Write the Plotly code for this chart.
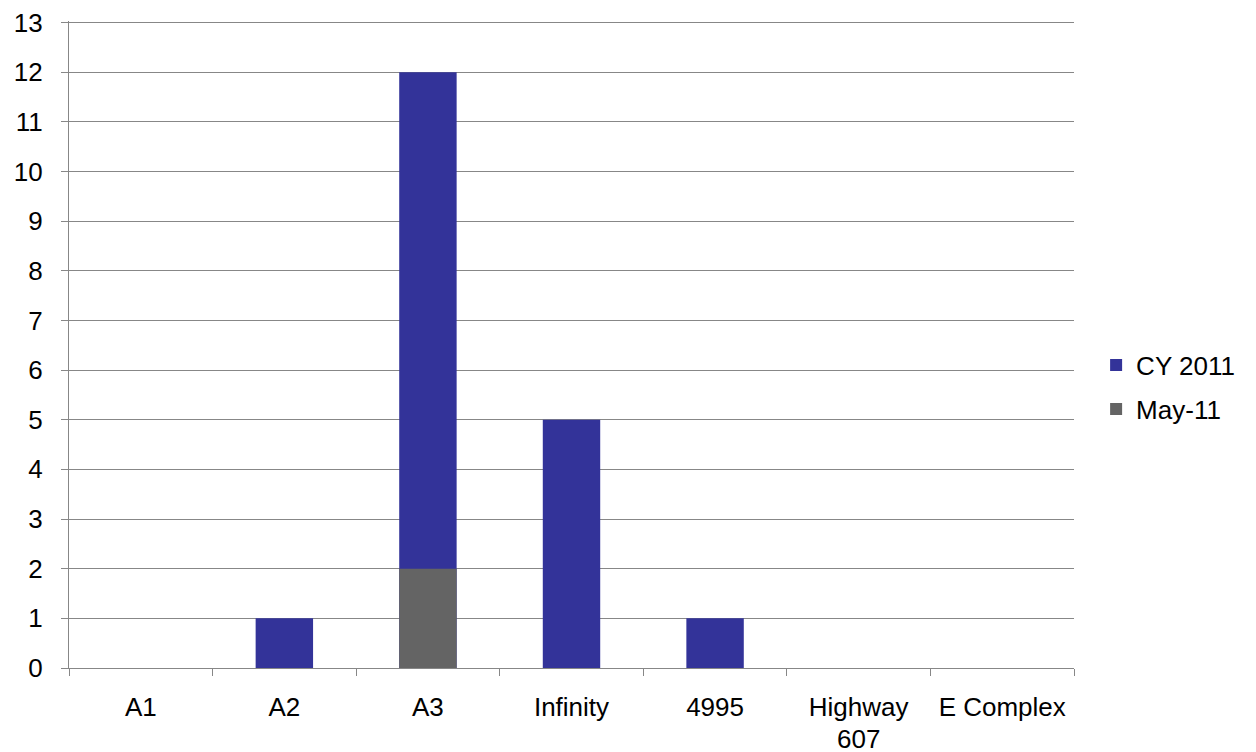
import plotly.graph_objects as go

categories = ["A1", "A2", "A3", "Infinity", "4995", "Highway 607", "E Complex"]
tick_labels = ["A1", "A2", "A3", "Infinity", "4995", "Highway", "E Complex"]
label_second_line = {"Highway 607": "607"}
cy2011 = [0, 1, 12, 5, 1, 0, 0]
may11 = [0, 0, 2, 0, 0, 0, 0]
y_ticks = list(range(0, 14))

GRID = "#878787"
FONT = dict(family="Liberation Sans, Arial, sans-serif", size=26, color="#000000")

fig = go.Figure()
fig.add_trace(go.Bar(x=categories, y=cy2011, name="CY 2011",
                     marker=dict(color="#333399", line=dict(width=0)),
                     legendgroup="a"))
fig.add_trace(go.Bar(x=categories, y=may11, name="May-11",
                     marker=dict(color="#646464", line=dict(width=0)),
                     legendgroup="b"))

# second line of the wrapped category label
for cat, txt in label_second_line.items():
    fig.add_annotation(x=cat, xref="x", y=0, yref="y", text=txt,
                       showarrow=False, yanchor="middle", xanchor="center",
                       yshift=-71, borderpad=0, font=FONT)

fig.update_layout(
    width=1248, height=744,
    margin=dict(l=61, r=182, t=13, b=84, pad=0, autoexpand=False),
    paper_bgcolor="white", plot_bgcolor="white",
    font=FONT,
    barmode="overlay",
    bargap=0.6,
    showlegend=True,
    legend=dict(x=1.022, y=0.434, xanchor="left", yanchor="middle",
                font=FONT, tracegroupgap=7, traceorder="grouped",
                bgcolor="rgba(0,0,0,0)"),
    xaxis=dict(
        type="category", categoryorder="array", categoryarray=categories,
        tickvals=categories, ticktext=tick_labels,
        automargin=False, ticklabeloverflow="allow",
        showline=True, linecolor=GRID, linewidth=1.3,
        ticks="outside", tickson="boundaries", ticklen=7, tickcolor=GRID, tickwidth=1.3,
        showgrid=False, ticklabelstandoff=16,
        tickfont=FONT,
    ),
    yaxis=dict(
        range=[0, 13.03], tickvals=y_ticks, ticktext=[str(v) for v in y_ticks],
        automargin=False, ticklabeloverflow="allow",
        showline=True, linecolor=GRID, linewidth=1.3,
        ticks="outside", ticklen=7, tickcolor=GRID, tickwidth=1.3,
        showgrid=True, gridcolor=GRID, gridwidth=1.3,
        zeroline=False, ticklabelstandoff=13,
        tickfont=FONT,
    ),
)

fig.write_html("out.html")
